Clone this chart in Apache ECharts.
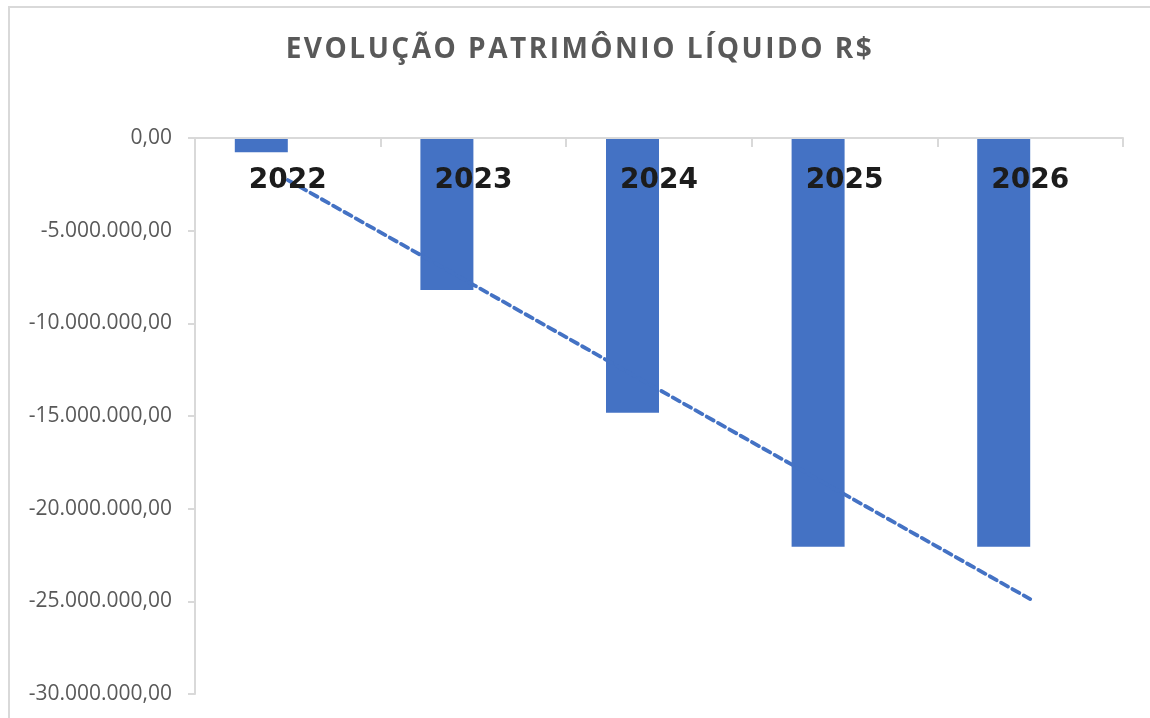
<!DOCTYPE html>
<html lang="pt-BR">
<head>
    <meta charset="UTF-8">
    <title>Evolução Patrimônio Líquido</title>
    <script src="https://cdn.jsdelivr.net/npm/echarts@6/dist/echarts.min.js"></script>
    <style>
        body { margin: 0; background: #fff; }
        #wrap { position: relative; width: 1150px; height: 718px; overflow: hidden; }
        #frame { position: absolute; left: 8px; top: 6px; width: 1160px; height: 730px; border: 2px solid #d9d9d9; box-sizing: border-box; }
        #titulo {
            position: absolute; left: 0; top: 28px; width: 1160px; text-align: center;
            font-family: "Open Sans", sans-serif; font-weight: bold; font-size: 28px;
            letter-spacing: 2.5px; color: #595959;
        }
        #main { position: absolute; left: 0; top: 0; width: 1150px; height: 718px; }
    </style>
</head>
<body>
<div id="wrap">
    <div id="frame"></div>
    <div id="main"></div>
    <div id="titulo">EVOLUÇÃO PATRIMÔNIO LÍQUIDO R$</div>
</div>
<script type="text/javascript">
    // dados
    var anos = ['2022', '2023', '2024', '2025', '2026'];
    var patrimonio = [-770000, -8200000, -14820000, -22050000, -22050000];
    var tendencia = [-2270000, -7920000, -13580000, -19230000, -24880000];

    // formata como 1.234.567,00
    function formatBR(v) {
        var neg = v < 0;
        var partes = Math.abs(v).toFixed(2).split('.');
        partes[0] = partes[0].replace(/\B(?=(\d{3})+(?!\d))/g, '.');
        return (neg ? '-' : '') + partes[0] + ',' + partes[1];
    }

    var myChart = echarts.init(document.getElementById('main'));
    var option = {
        animation: false,
        grid: { left: 195, right: 27, top: 138, bottom: 24, containLabel: false, outerBoundsMode: 'none' },
        xAxis: {
            type: 'category',
            data: anos,
            position: 'top', // eixo no zero (topo), rótulos para dentro
            z: 10,
            axisLine: { lineStyle: { color: '#d9d9d9', width: 2 } },
            axisTick: { show: true, inside: true, length: 9, lineStyle: { color: '#d9d9d9', width: 2 } },
            axisLabel: {
                inside: true,
                margin: 29,
                color: '#1c1c1c',
                fontFamily: 'DejaVu Sans',
                fontWeight: 'bold',
                fontSize: 28
            }
        },
        yAxis: {
            type: 'value',
            min: -30000000,
            max: 0,
            interval: 5000000,
            axisLine: { show: true, lineStyle: { color: '#d9d9d9', width: 2 } },
            axisTick: { show: true, length: 7, lineStyle: { color: '#d9d9d9', width: 2 } },
            splitLine: { show: false },
            axisLabel: {
                margin: 23,
                color: '#595959',
                fontFamily: 'Open Sans',
                fontSize: 21,
                formatter: formatBR
            }
        },
        series: [
            {
                name: 'Patrimônio Líquido',
                type: 'bar',
                data: patrimonio,
                barWidth: 53,
                barGap: '0%',
                itemStyle: { color: '#4472C4' }
            },
            {
                // espaço vazio ao lado da barra (como no Excel)
                name: 'vazio',
                type: 'bar',
                data: [],
                barWidth: 53,
                barGap: '0%'
            },
            {
                name: 'Tendência',
                type: 'line',
                data: tendencia,
                symbol: 'none',
                z: 5,
                lineStyle: { color: '#4472C4', width: 3.8, type: [8, 5], cap: 'round' }
            }
        ]
    };
    myChart.setOption(option);
</script>
</body>
</html>
